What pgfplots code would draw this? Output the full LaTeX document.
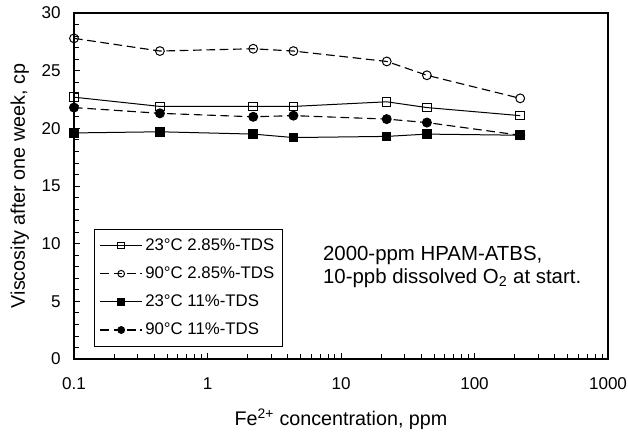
\documentclass[border=0pt]{standalone}
\usepackage{pgfplots}
\pgfplotsset{compat=1.18}
\usepackage{fontspec}
\setmainfont{Liberation Sans}
\begin{document}
\begin{tikzpicture}[font=\fontsize{12.5}{15}\selectfont]
\begin{axis}[
  name=ax,
  scale only axis,
  width=400.5pt, height=259.5pt,
  xmode=log, xmin=0.1, xmax=1000,
  ymin=0, ymax=30,
  ytick={0,5,...,30}, minor ytick={1,2,3,4,6,7,8,9,11,12,13,14,16,17,18,19,21,22,23,24,26,27,28,29},
  xtick={0.1,1,10,100,1000},
  xticklabels={0.1,1,10,100,1000},
  tick align=inside,
  xtick pos=bottom, ytick pos=left,
  major tick length=4.5pt, minor tick length=4pt,
  tick style={black, line width=0.6pt},
  axis line style={line width=0.8pt},
  /pgf/number format/assume math mode=true,
  tick label style={font=\fontsize{12.8}{15}\selectfont},
  label style={font=\fontsize{14.8}{17}\selectfont, inner sep=0pt},
  yticklabel style={anchor=east, inner sep=0pt, xshift=-9.75pt},
  xticklabel style={anchor=base, inner sep=0pt, yshift=-23.25pt},
  xlabel={Fe\textsuperscript{2+} concentration, ppm},
  ylabel={Viscosity after one week, cp},
  xlabel style={at={(axis description cs:0.5,-0.1908)}, anchor=base},
  ylabel style={at={(axis description cs:-0.0918,0.5)}, anchor=base},
  legend cell align=left,
  legend style={at={(rel axis cs:0.0375,0.3757)}, anchor=north west, draw=black, line width=0.6pt,
    row sep=6.8pt, inner xsep=4pt, inner ysep=5pt, font=\fontsize{12.6}{15}\selectfont},
  legend image code/.code={
    \draw[#1, mark=none] (0cm,0cm) -- (1.1cm,0cm);
    \draw[#1, solid, mark size=2.5pt] plot coordinates {(0.55cm,0cm)};
  },
  every axis plot/.append style={line width=0.75pt},
]
\addplot[black, solid, mark=square, mark size=3.2pt, mark options={solid, fill=white}] coordinates {
 (0.1,22.7) (0.44,21.9) (2.2,21.9) (4.4,21.9) (22,22.3) (44,21.8) (220,21.1)};
\addlegendentry{23°C 2.85\%-TDS}
\addplot[black, line width=0.85pt, dash pattern=on 6.5pt off 3.5pt, mark=o, mark size=3.3pt, mark options={solid, fill=white, line width=0.75pt}] coordinates {
 (0.1,27.8) (0.44,26.7) (2.2,26.9) (4.4,26.7) (22,25.8) (44,24.6) (220,22.6)};
\addlegendentry{90°C 2.85\%-TDS}
\addplot[black, solid, mark=square*, mark size=3.2pt, mark options={solid}] coordinates {
 (0.1,19.6) (0.44,19.7) (2.2,19.5) (4.4,19.2) (22,19.3) (44,19.5) (220,19.4)};
\addlegendentry{23°C 11\%-TDS}
\addplot[black, line width=0.85pt, dash pattern=on 6.5pt off 3.5pt, mark=*, mark size=3.3pt, mark options={solid}] coordinates {
 (0.1,21.8) (0.44,21.3) (2.2,21.0) (4.4,21.1) (22,20.8) (44,20.5) (220,19.4)};
\addlegendentry{90°C 11\%-TDS}
\node[anchor=base west, inner sep=0pt, font=\fontsize{15.3}{18}\selectfont] at (rel axis cs:0.466,0.286) {2000-ppm HPAM-ATBS,};
\node[anchor=base west, inner sep=0pt, font=\fontsize{15.3}{18}\selectfont] at (rel axis cs:0.466,0.219) {10-ppb dissolved O\textsubscript{2} at start.};
\end{axis}
\path ([xshift=-55.5pt, yshift=-55.5pt]ax.south west) rectangle ([xshift=15pt, yshift=9.75pt]ax.north east);
\end{tikzpicture}
\end{document}
